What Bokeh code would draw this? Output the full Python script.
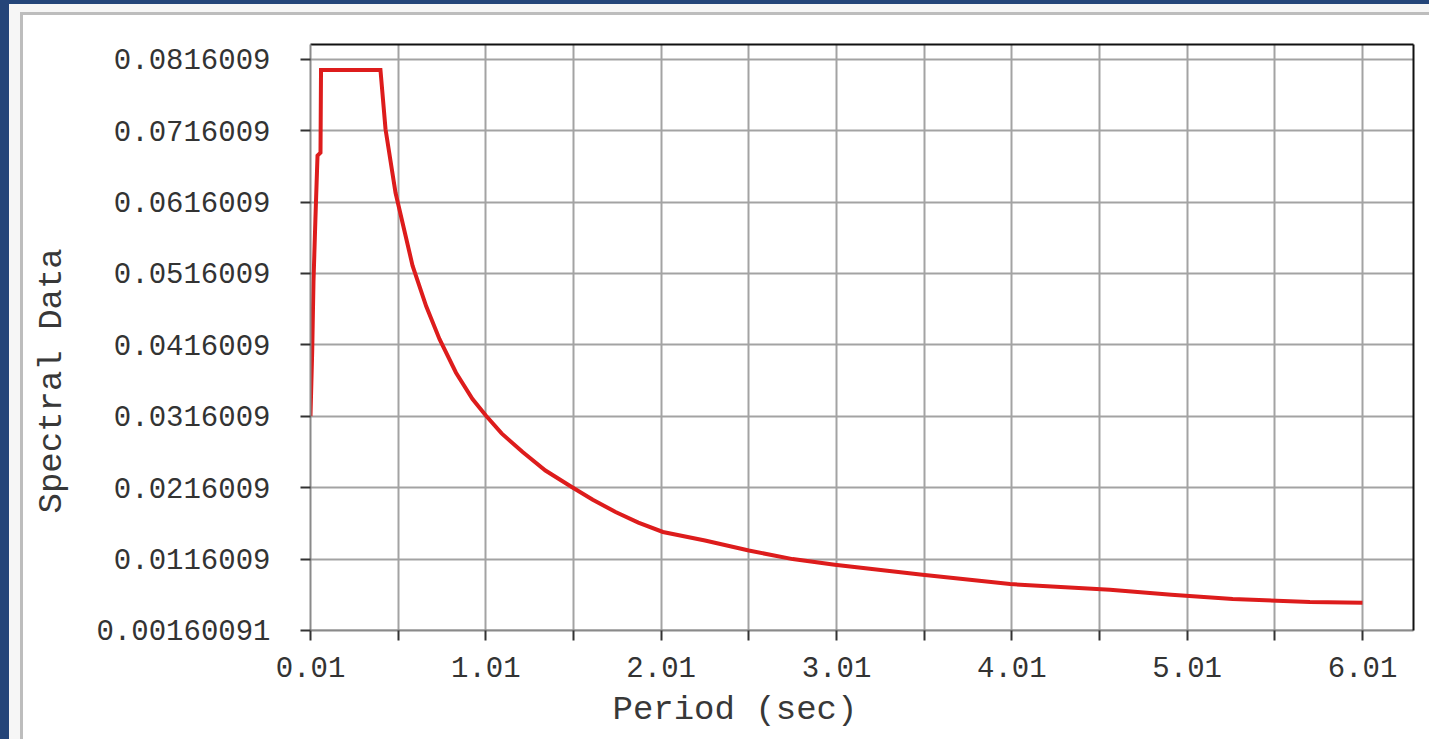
from bokeh.plotting import figure
from bokeh.models import FixedTicker, LinearAxis, Title, Range1d
from bokeh.embed import file_html
from bokeh.resources import INLINE

# ---- data ----
period = [0.01, 0.02, 0.027, 0.038, 0.05, 0.067, 0.07, 0.409, 0.438, 0.495,
          0.592, 0.67, 0.746, 0.84, 0.934, 1.01, 1.10, 1.22, 1.35, 1.50,
          1.62, 1.75, 1.88, 2.02, 2.26, 2.51, 2.76, 3.00, 3.50, 4.00,
          4.57, 4.92, 5.27, 5.71, 6.01]
spectral = [0.0316, 0.041, 0.0504, 0.0592, 0.0681, 0.0685, 0.0801, 0.0801, 0.0718, 0.0629,
            0.0527, 0.0470, 0.0424, 0.0377, 0.0340, 0.0317, 0.0292, 0.0266, 0.0240, 0.0217,
            0.0199, 0.0182, 0.0167, 0.0154, 0.0142, 0.0128, 0.0116, 0.0108, 0.0094, 0.0081,
            0.0073, 0.0066, 0.0060, 0.0056, 0.0055]

x_major_ticks = [0.01, 1.01, 2.01, 3.01, 4.01, 5.01, 6.01]
x_minor_ticks = [0.51, 1.51, 2.51, 3.51, 4.51, 5.51]
x_labels = ["0.01", "1.01", "2.01", "3.01", "4.01", "5.01", "6.01"]
y_ticks = [0.00160091, 0.0116009, 0.0216009, 0.0316009, 0.0416009,
           0.0516009, 0.0616009, 0.0716009, 0.0816009]
y_labels = ["0.00160091", "0.0116009", "0.0216009", "0.0316009", "0.0416009",
            "0.0516009", "0.0616009", "0.0716009", "0.0816009"]

MONO = "Liberation Mono"
BLUE = "#244579"

p = figure(width=1429, height=739, output_backend="svg", toolbar_location=None,
           x_range=Range1d(0.01, 6.301), y_range=Range1d(0.0016, 0.08366),
           min_border_left=310, min_border_right=16, min_border_top=44, min_border_bottom=109)
p.title.text = ""
p.border_fill_alpha = 0
p.background_fill_color = "white"
p.outline_line_color = None
p.styles = {
    "background": ("linear-gradient(#ffffff,#ffffff) 23px 15px / 100% 100% no-repeat, "
                   "linear-gradient(#bdbdbd,#bdbdbd) 20px 12px / 100% 100% no-repeat, "
                   "linear-gradient(#f6f6f6,#f6f6f6) 9px 4px / 100% 100% no-repeat, "
                   + BLUE)
}

# x axis
xt = FixedTicker(ticks=x_major_ticks, minor_ticks=x_minor_ticks)
p.xaxis.ticker = xt
p.xaxis.major_label_overrides = dict(zip(x_major_ticks, x_labels))
p.xgrid.ticker = FixedTicker(ticks=sorted(x_major_ticks + x_minor_ticks))

# y axis
yt = FixedTicker(ticks=y_ticks, minor_ticks=[])
p.yaxis.ticker = yt
p.yaxis.major_label_overrides = dict(zip(y_ticks, y_labels))
p.ygrid.ticker = yt

for ax in (p.xaxis[0], p.yaxis[0]):
    ax.axis_line_color = "#8a8a8a"
    ax.axis_line_width = 2
    ax.major_tick_line_color = "#333333"
    ax.major_tick_line_width = 2
    ax.major_tick_out = 10
    ax.major_tick_in = 0
    ax.minor_tick_line_color = "#333333"
    ax.minor_tick_line_width = 2
    ax.minor_tick_out = 10
    ax.minor_tick_in = 0
    ax.major_label_text_font = MONO
    ax.major_label_text_font_size = "29px"
    ax.major_label_text_color = "#333333"
p.xaxis.major_label_standoff = 16
p.yaxis.major_label_standoff = 30

for g in (p.xgrid[0], p.ygrid[0]):
    g.grid_line_color = "#a3a3a3"
    g.grid_line_width = 2

# black top and right spines
for loc in ("above", "right"):
    a = LinearAxis(ticker=FixedTicker(ticks=[]), axis_line_color="#111111", axis_line_width=2,
                   major_tick_line_color=None, minor_tick_line_color=None,
                   major_label_text_font_size="0px", major_label_standoff=0)
    p.add_layout(a, loc)

# axis labels as offset titles
p.add_layout(Title(text="Period (sec)", align="left", offset=302, standoff=19,
                   text_font=MONO, text_font_size="34px", text_font_style="normal",
                   text_color="#383838"), "below")
p.add_layout(Title(text="Spectral Data", align="left", offset=117, standoff=45,
                   text_font=MONO, text_font_size="34px", text_font_style="normal",
                   text_color="#383838"), "left")

p.line(period, spectral, line_color="#dd1c1c", line_width=4, line_join="miter")

open("out.html", "w").write(file_html(p, INLINE))
